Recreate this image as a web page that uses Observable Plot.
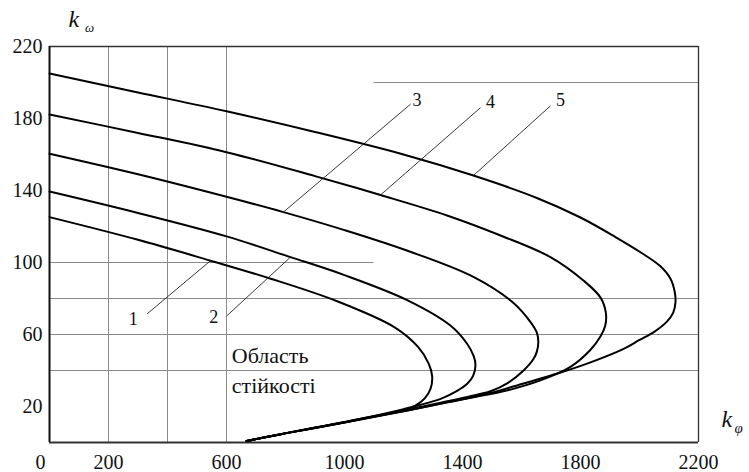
<!DOCTYPE html>
<html>
<head>
<meta charset="utf-8">
<script src="https://cdn.jsdelivr.net/npm/d3@7"></script>
<script src="https://cdn.jsdelivr.net/npm/@observablehq/plot@0.6"></script>
<style>
  html, body { margin: 0; padding: 0; background: #fff; }
  #chart svg { display: block; overflow: visible; }
  #chart svg, #chart svg text { font-family: "Times New Roman", "Liberation Serif", Tinos, "DejaVu Serif", "Noto Serif", serif !important; }
</style>
</head>
<body>
<div id="chart"></div>
<script>
// Curves (k_phi, k_omega): upper branch → tip → lower branch
const curve1 = [[0,125.2],[300,112.6],[546,101],[750,91],[975,78.5],[1170,64],[1250,53],[1285,44],[1297,37],[1292,30],[1272,24.5],[1240,20.5],[1200,18],[1050,12.9],[900,8.2],[780,4.5],[668,0.8]];
const curve2 = [[0,139.4],[300,127.5],[600,114.5],[817,103],[1000,93],[1214,79],[1359,65],[1415,55],[1438,48],[1444,43],[1436,37],[1416,32.6],[1380,28.5],[1330,24.5],[1200,18.5],[1050,13],[900,8.3],[780,4.5],[668,0.8]];
const curve3 = [[0,160.4],[300,149],[600,136.5],[793,128],[1000,118],[1214,106.5],[1437,92],[1573,77.5],[1630,67],[1652,61],[1657,56],[1652,50.5],[1641,46.5],[1607,40],[1553,33],[1495,28.5],[1420,25.5],[1330,22.3],[1200,17.8],[1050,12.9],[900,8.2],[780,4.5],[668,0.8]];
const curve4 = [[0,182.2],[300,172],[600,161.3],[900,148],[1122,137.5],[1350,126],[1529,115],[1698,103],[1810,90],[1868,80.5],[1886,72],[1884,65],[1868,59],[1834,51.5],[1766,42],[1664,34.5],[1553,29],[1450,25.5],[1330,21.8],[1200,17.4],[1050,12.7],[900,8.1],[780,4.5],[668,0.8]];
const curve5 = [[0,205],[300,194.5],[600,184],[900,172.5],[1200,160],[1437,148.3],[1650,136],[1800,125],[1920,114],[2010,105],[2070,98],[2105,91],[2119,84],[2122,78],[2114,72],[2092,67],[2050,61.5],[2000,57],[1946,52],[1834,44.5],[1722,38.3],[1607,32.8],[1495,27.5],[1350,22.3],[1200,17.4],[1050,12.6],[900,8],[780,4.5],[668,0.8]];

const curveNames = ["1","2","3","4","5"];
// label positions and leader lines [fromX, fromY, toX, toY]
const labelPos = [[284,68.7],[557,69.6],[1246,190],[1495,189],[1732,190]];
const leaders = [[331,71.5,546,101],[602,70.5,817,103],[1224,188,793,128],[1461,186,1122,137.5],[1698,187,1437,148.3]];

const xTicks = [200,600,1000,1400,1800,2200];
const xTickZero = [0];
const yTicks = [220,180,140,100,60,20];
const vGrid = [200,400,600];
const hGridFull = [40,60,80];

const curves = [curve1, curve2, curve3, curve4, curve5];
const lineData = curves.flatMap((c, i) => c.map(([x, y]) => ({x, y, s: curveNames[i]})));
const labelData = labelPos.map(([x, y], i) => ({x, y, t: curveNames[i]}));
const leaderData = leaders.map(([x1, y1, x2, y2]) => ({x1, y1, x2, y2}));

const fmt = d => String(d);

const chart = Plot.plot({
  width: 749,
  height: 472,
  marginLeft: 49,
  marginRight: 51,
  marginTop: 46,
  marginBottom: 30,
  style: {fontSize: "20px", color: "#111", background: "#fff", overflow: "visible"},
  x: {domain: [0, 2200]},
  y: {domain: [0, 220]},
  marks: [
    Plot.ruleX(vGrid, {y1: 0, y2: 220, stroke: "#8a8a8a", strokeWidth: 1}),
    Plot.ruleY(hGridFull, {x1: 0, x2: 2200, stroke: "#8a8a8a", strokeWidth: 1}),
    Plot.ruleY([100], {x1: 0, x2: 1100, stroke: "#8a8a8a", strokeWidth: 1}),
    Plot.ruleY([200], {x1: 1100, x2: 2200, stroke: "#8a8a8a", strokeWidth: 1}),
    Plot.ruleY([220], {x1: 0, x2: 2200, stroke: "#333", strokeWidth: 1.3}),
    Plot.ruleX([2200], {y1: 0, y2: 220, stroke: "#333", strokeWidth: 1.3}),
    Plot.ruleX([0], {y1: 0, y2: 220, stroke: "#111", strokeWidth: 2}),
    Plot.ruleY([0], {x1: 0, x2: 2200, stroke: "#333", strokeWidth: 2}),
    Plot.line(lineData, {x: "x", y: "y", z: "s", curve: "catmull-rom", stroke: "#000", strokeWidth: 2}),
    Plot.link(leaderData, {x1: "x1", y1: "y1", x2: "x2", y2: "y2", stroke: "#222", strokeWidth: 0.9}),
    Plot.text(labelData, {x: "x", y: "y", text: "t", fontSize: 18, fill: "#111"}),
    Plot.text(["Область"], {x: 618, y: 48, text: d => d, textAnchor: "start", fontSize: 22, fill: "#111"}),
    Plot.text(["стійкості"], {x: 618, y: 31.5, text: d => d, textAnchor: "start", fontSize: 22, fill: "#111"}),
    Plot.axisY(yTicks, {tickSize: 0, tickPadding: 7, label: null, fontSize: 20, fill: "#111", tickFormat: fmt}),
    Plot.axisX(xTicks, {tickSize: 0, tickPadding: 12, label: null, fontSize: 20, fill: "#111", tickFormat: fmt}),
    Plot.axisX(xTickZero, {tickSize: 0, tickPadding: 12, label: null, fontSize: 20, fill: "#111", tickFormat: fmt, dx: -9}),
    Plot.text(["k"], {x: 64, y: 235, text: d => d, fontStyle: "italic", fontSize: 24, textAnchor: "start", fill: "#111"}),
    Plot.text(["ω"], {x: 120, y: 230.5, text: d => d, fontStyle: "italic", fontSize: 13, textAnchor: "start", fill: "#111"}),
    Plot.text(["k"], {x: 2278, y: 13, text: d => d, fontStyle: "italic", fontSize: 24, textAnchor: "start", fill: "#111"}),
    Plot.text(["φ"], {x: 2322, y: 8, text: d => d, fontStyle: "italic", fontSize: 15, textAnchor: "start", fill: "#111"})
  ]
});
document.getElementById("chart").append(chart);
</script>
</body>
</html>
